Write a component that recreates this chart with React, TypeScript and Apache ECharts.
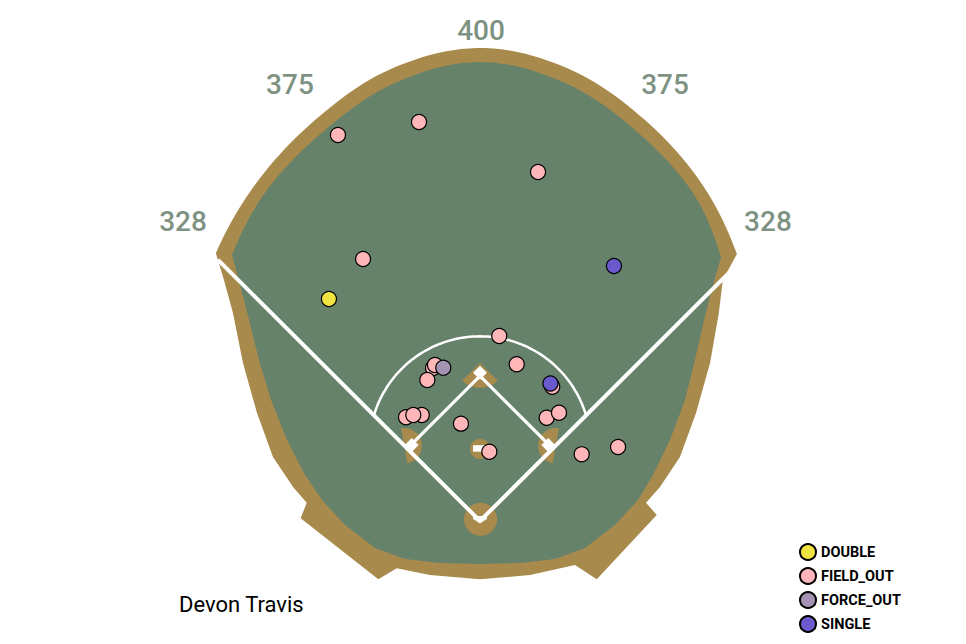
import React, { useEffect, useRef } from "react";
import * as echarts from "echarts";

// ---- hit locations, in feet from home plate (x: toward 1B side, y: toward CF) ----
const fieldOut: number[][] = [
  [-124.6, 338.6], [-53.5, 350.0], [50.9, 306.1], [-102.6, 229.8],
  [16.9, 162.3], [32.2, 137.5], [-41.2, 134.2], [-39.5, 136.8],
  [-46.2, 123.7], [-64.9, 91.0], [-51.1, 93.0], [-58.5, 93.0],
  [-16.7, 85.4], [8.2, 60.8], [63.4, 117.8], [58.5, 90.6],
  [69.3, 95.0], [89.2, 58.5], [121.1, 64.9],
];
const doubles: number[][] = [[-132.5, 194.7]];
const forceOut: number[][] = [[-32.2, 134.5]];
const singles: number[][] = [[117.5, 223.7], [61.8, 120.6]];

const eventNames = ["DOUBLE", "FIELD_OUT", "FORCE_OUT", "SINGLE"];
const eventColors = ["#F0E442", "#FFB6B9", "#A493B3", "#6A5ACD"];

// ---- distance markers (feet) ----
const distanceLabels: (number | string)[][] = [
  [-260.5, 262.3, "328"], [-166.7, 383.3, "375"], [0.9, 430.7, "400"],
  [162.3, 383.3, "375"], [252.6, 262.3, "328"],
];

const playerName = "Devon Travis";

// ---- stadium geometry (feet) ----
// outfield wall as [angle from CF (deg), distance (ft)]
const wallInner: number[][] = [[-43.0, 319.0], [-33.75, 343], [-22.5, 367], [-11.25, 391], [0, 402.6], [11.25, 391], [22.5, 367], [33.75, 341], [42.4, 313.6]];
const wallOuter: number[][] = [[-44.6, 330.0], [-33.75, 355], [-22.5, 380], [-11.25, 404], [0, 414.9], [11.25, 404], [22.5, 380], [33.75, 353], [43.9, 325.0]];

const outerLeftSide: number[][] = [
  [-224.6, 211.4], [-216.7, 182.5], [-207.9, 138.6], [-195.6, 94.7],
  [-181.6, 56.1], [-164.0, 29.8], [-152.0, 16.1],
];
const outerBottom: number[][] = [
  [-157.3, 2.4], [-89.2, -51.1], [-73.1, -41.5],
  [-43.9, -47.4], [0, -51.1], [43.9, -47.4],
  [83.3, -38.6], [102.4, -51.1], [155.0, 5.3], [145.6, 16.1],
];
const outerRightSide: number[][] = [
  [157.9, 29.8], [175.4, 56.1], [189.5, 94.7], [201.8, 138.6], [209.5, 182.5], [213.0, 211.4],
];
const innerLeftSide: number[][] = [
  [-210.5, 207.0], [-202.6, 176.3], [-193.9, 141.2], [-183.3, 106.1],
  [-169.3, 71.1], [-153.5, 40.4], [-138.6, 18.4], [-118.4, -3.5],
  [-92.1, -23.7], [-65.8, -33.3], [-35.1, -36.8], [0, -37.7],
];
const innerRightSide: number[][] = [
  [35.1, -36.8], [65.8, -33.3], [92.1, -23.7], [118.4, -3.5], [138.6, 18.4],
  [151.8, 40.4], [166.7, 71.1], [179.8, 106.1], [188.6, 141.2], [196.5, 176.3], [204.4, 207.0],
];

const foulLine: number[][] = [[-229.8, 229.0], [0, 0], [229.8, 229.0]];
const basePath: number[][] = [[63.64, 63.64], [0, 127.28], [-63.64, 63.64]];
const infieldArc = { center: [0, 64.9], radius: 97.1 };
const homeCircle = { center: [0.5, 1.5], radius: 14.5 };
const moundCircle = { center: [0, 63.2], radius: 8.8 };
// dirt cut-outs at bases: [x, y, radius, direction (deg, screen), spread (deg)]
const baseDirt: number[][] = [[66.5, 66.0, 15.5, 190, 180], [0, 138.6, 21.9, 90, 90], [-66.5, 66.0, 15.5, -10, 180]];
// base bags: [x, y, half diagonal]
const baseBags: number[][] = [[59.9, 66.7, 6.1], [0, 130.0, 6.1], [-59.9, 66.7, 6.1]];
const homePlate: number[][] = [[-6.1, 4.4], [6.1, 4.4], [6.1, 1.8], [0, -1.8], [-6.1, 1.8]];
const rubber: number[][] = [[-6.1, 60.8], [6.1, 60.8], [6.1, 66.5], [-6.1, 66.5]];

const GREEN = "#67826A";
const DIRT = "#A98A4D";
const LABEL = "#5B745F";

function wallArc(ctrl: number[][], n: number): number[][] {
  const a = ctrl.map((c) => c[0]);
  const r = ctrl.map((c) => c[1]);
  const m = r.map((_, i) => {
    if (i === 0) return (r[1] - r[0]) / (a[1] - a[0]);
    if (i === r.length - 1) return (r[i] - r[i - 1]) / (a[i] - a[i - 1]);
    return (r[i + 1] - r[i - 1]) / (a[i + 1] - a[i - 1]);
  });
  const out: number[][] = [];
  for (let k = 0; k <= n; k++) {
    const th = a[0] + ((a[a.length - 1] - a[0]) * k) / n;
    let i = 0;
    while (i < a.length - 2 && th > a[i + 1]) i++;
    const h = a[i + 1] - a[i];
    const t = (th - a[i]) / h;
    const h00 = 2 * t * t * t - 3 * t * t + 1;
    const h10 = t * t * t - 2 * t * t + t;
    const h01 = -2 * t * t * t + 3 * t * t;
    const h11 = t * t * t - t * t;
    const rr = h00 * r[i] + h10 * h * m[i] + h01 * r[i + 1] + h11 * h * m[i + 1];
    const rad = (th * Math.PI) / 180;
    out.push([rr * Math.sin(rad), rr * Math.cos(rad)]);
  }
  return out;
}

function arcPoints(): number[][] {
  const [cx, cy] = infieldArc.center;
  const R = infieldArc.radius;
  const b = -2 * cy, cc = cy * cy - R * R;
  const t = (-b + Math.sqrt(b * b - 8 * cc)) / 4;
  const aEnd = Math.atan2(t, t - cy);
  const pts: number[][] = [];
  for (let k = 0; k <= 80; k++) {
    const ang = -aEnd + (2 * aEnd * k) / 80;
    pts.push([cx + R * Math.sin(ang), cy + R * Math.cos(ang)]);
  }
  return pts;
}

function renderField(_params: any, api: any) {
  const c = (p: number[]) => api.coord(p);
  const px = (ft: number) => api.size([ft, 0])[0];
  const outer = [...wallArc(wallOuter, 90), ...outerRightSide.slice().reverse(), ...outerBottom.slice().reverse(), ...outerLeftSide.slice().reverse()];
  const inner = [...wallArc(wallInner, 90), ...innerRightSide.slice().reverse(), ...innerLeftSide.slice().reverse()];
  const children: any[] = [];
  children.push({ type: "polygon", shape: { points: outer.map(c) }, style: { fill: DIRT } });
  children.push({ type: "polygon", shape: { points: inner.map(c) }, style: { fill: GREEN } });
  baseDirt.forEach((d) => {
    const p = c([d[0], d[1]]);
    const dir = (d[3] * Math.PI) / 180;
    const half = (d[4] * Math.PI) / 360;
    children.push({
      type: "sector",
      shape: { cx: p[0], cy: p[1], r: px(d[2]), r0: 0, startAngle: dir - half, endAngle: dir + half, clockwise: true },
      style: { fill: DIRT },
    });
  });
  [homeCircle, moundCircle].forEach((circ) => {
    const p = c(circ.center);
    children.push({ type: "circle", shape: { cx: p[0], cy: p[1], r: px(circ.radius) }, style: { fill: DIRT } });
  });
  children.push({ type: "polyline", shape: { points: arcPoints().map(c) }, style: { stroke: "#fff", lineWidth: 2.5, fill: null } });
  children.push({ type: "polyline", shape: { points: basePath.map(c) }, style: { stroke: "#fff", lineWidth: 3.2, fill: null } });
  children.push({ type: "polyline", shape: { points: foulLine.map(c) }, style: { stroke: "#fff", lineWidth: 4, fill: null } });
  baseBags.forEach((b) => {
    const pts = [[b[0], b[1] + b[2]], [b[0] + b[2], b[1]], [b[0], b[1] - b[2]], [b[0] - b[2], b[1]]];
    children.push({ type: "polygon", shape: { points: pts.map(c) }, style: { fill: "#fff" } });
  });
  children.push({ type: "polygon", shape: { points: homePlate.map(c) }, style: { fill: "#fff" } });
  children.push({ type: "polygon", shape: { points: rubber.map(c) }, style: { fill: "#fff" } });
  return { type: "group", children };
}

const pointSeries = [doubles, fieldOut, forceOut, singles].map((data, i) => ({
  name: eventNames[i],
  type: "scatter",
  data,
  symbol: "circle",
  symbolSize: 15,
  z: 5,
  itemStyle: { color: eventColors[i], borderColor: "#000", borderWidth: 1.2, opacity: 1 },
  emphasis: { disabled: true },
}));

export default function App() {
  const ref = useRef<HTMLDivElement>(null);
  useEffect(() => {
    if (!ref.current) return;
    const chart = echarts.init(ref.current, null, { renderer: "svg" });
    chart.setOption({
      animation: false,
      backgroundColor: "#ffffff",
      grid: { left: 0, right: 0, top: 0, bottom: 0, containLabel: false },
      xAxis: { type: "value", min: -421.05, max: 426.32, show: false },
      yAxis: { type: "value", min: -107.89, max: 457.02, show: false },
      title: {
        text: playerName,
        left: 179,
        top: 593,
        padding: 0,
        textStyle: { fontFamily: "Roboto", fontWeight: "normal", fontSize: 22, color: "#000" },
      },
      legend: {
        data: eventNames,
        orient: "vertical",
        left: 799,
        top: 543,
        height: 100,
        padding: 0,
        itemWidth: 16,
        itemHeight: 16,
        itemGap: 6,
        icon: "circle",
        selectedMode: false,
        textStyle: { fontFamily: "Roboto", fontWeight: "bold", fontSize: 14.5, color: "#000" },
      },
      series: [
        {
          type: "custom",
          name: "field",
          silent: true,
          z: 1,
          data: [[0, 0]],
          renderItem: renderField,
        },
        {
          type: "scatter",
          name: "distances",
          silent: true,
          z: 2,
          symbolSize: 0,
          data: distanceLabels,
          label: {
            show: true,
            position: "inside",
            formatter: (p: any) => p.value[2],
            fontFamily: "Roboto",
            fontWeight: 500,
            fontSize: 28,
            color: LABEL,
          },
        },
        ...pointSeries,
      ],
    });
    return () => chart.dispose();
  }, []);
  return <div ref={ref} style={{ position: "fixed", left: 0, top: 0, width: 966, height: 644 }} />;
}
